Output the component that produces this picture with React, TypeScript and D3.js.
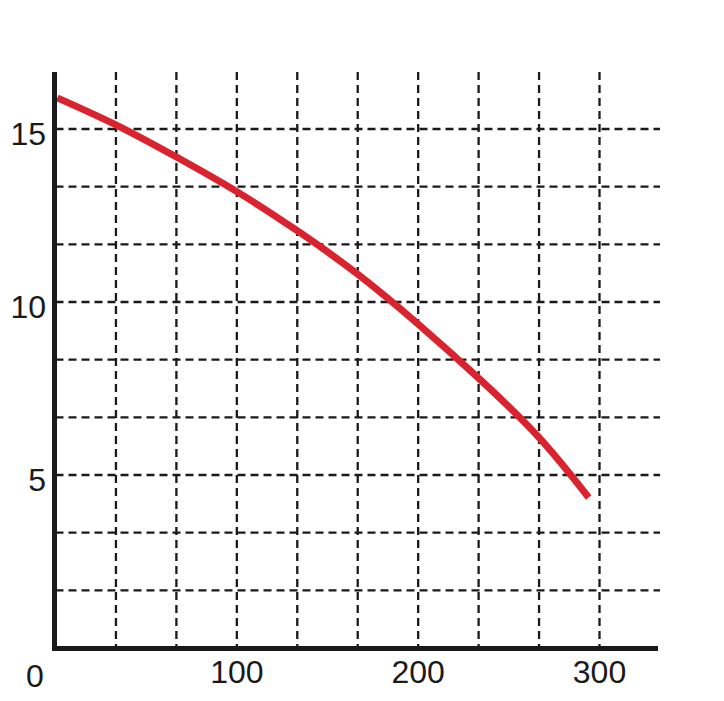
import React from "react";
import * as d3 from "d3";

const flowValues = [1, 33.3, 66.7, 100, 133.3, 166.7, 200, 233.3, 266.7, 294];
const headValues = [15.9, 15.12, 14.19, 13.19, 12.06, 10.8, 9.36, 7.8, 6.08, 4.35];
const xTickLabels = [0, 100, 200, 300];
const yTickLabels = [5, 10, 15];
const xGridValues = [33.33, 66.67, 100, 133.33, 166.67, 200, 233.33, 266.67, 300];
const yGridValues = [1.667, 3.333, 5, 6.667, 8.333, 10, 11.667, 13.333, 15];

export default function App() {
  const x = d3.scaleLinear().domain([0, 300]).range([55.5, 599.5]);
  const y = d3.scaleLinear().domain([0, 15]).range([648, 129]);
  const pts = flowValues.map((f, i) => [x(f), y(headValues[i])] as [number, number]);
  const line = d3.line().curve(d3.curveNatural)(pts) || "";
  const font = "'Liberation Sans', Arial, sans-serif";
  const yTop = y(16.65);
  const xRightGrid = x(333.4);
  return (
    <svg width={724} height={701} style={{ position: "absolute", left: 0, top: 0, background: "#fff" }}>
      <rect width={724} height={701} fill="#fff" />
      {xGridValues.map((v) => (
        <line key={"vx" + v} x1={x(v)} x2={x(v)} y1={yTop} y2={y(0)} stroke="#1a1a1a" strokeWidth={2.3} strokeDasharray="8,5" />
      ))}
      {yGridValues.map((v) => (
        <line key={"hy" + v} x1={x(0)} x2={xRightGrid} y1={y(v)} y2={y(v)} stroke="#1a1a1a" strokeWidth={2.3} strokeDasharray="8,5" />
      ))}
      <path d={line} fill="none" stroke="#d9232e" strokeWidth={7} />
      <line x1={x(0) - 1} x2={x(0) - 1} y1={yTop} y2={y(0) + 3} stroke="#1a1a1a" strokeWidth={5} />
      <line x1={x(0) - 3.5} x2={658} y1={y(0) + 0.5} y2={y(0) + 0.5} stroke="#1a1a1a" strokeWidth={5} />
      {xTickLabels.map((v) => (
        <text key={"xl" + v} x={v === 0 ? 35 : x(v)} y={v === 0 ? 687 : 683} textAnchor="middle" fontSize={32} fontFamily={font} fill="#1a1a1a">
          {v}
        </text>
      ))}
      {yTickLabels.map((v) => (
        <text key={"yl" + v} x={46} y={y(v) + 16} textAnchor="end" fontSize={32} fontFamily={font} fill="#1a1a1a">
          {v}
        </text>
      ))}
    </svg>
  );
}
